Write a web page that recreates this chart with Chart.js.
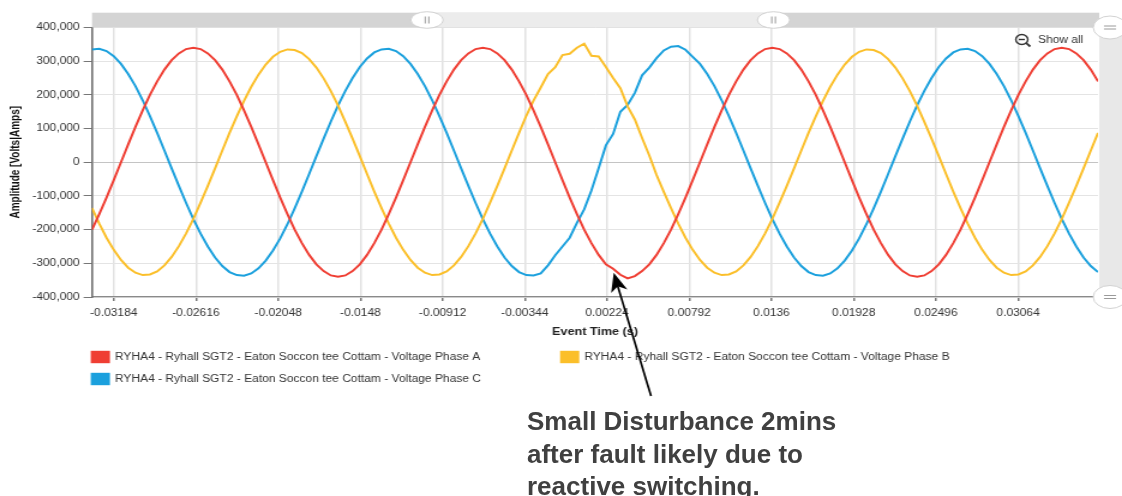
<!DOCTYPE html>
<html>
<head>
<meta charset="utf-8">
<title>RYHA4 voltage phases</title>
<script src="https://cdn.jsdelivr.net/npm/chart.js@4.4.1/dist/chart.umd.min.js"></script>
<style>
  html, body { margin: 0; padding: 0; background: #fff; overflow: hidden; }
  #page { position: relative; width: 1122px; height: 496px; overflow: hidden; }
  /* the source screenshot is stretched sideways, so the chart canvas is too */
  #stretch { position: absolute; left: 0; top: 0; width: 935px; height: 496px; transform: scaleX(1.2); transform-origin: 0 0; }
  #note { position: absolute; left: 527px; top: 405px; font: bold 26px "Liberation Sans", Arial, sans-serif; line-height: 32.5px; color: #404040; white-space: nowrap; }
</style>
</head>
<body>
<div id="page">
  <div id="stretch"><canvas id="wave" width="935" height="496"></canvas></div>
  <div id="note">Small Disturbance 2mins<br>after fault likely due to<br>reactive switching.</div>
</div>
<script>
// event time (s)
var times = [
  -0.03334, -0.03284, -0.03234, -0.03184, -0.03134, -0.03084, -0.03034, -0.02984, -0.02934, -0.02884,
  -0.02834, -0.02784, -0.02734, -0.02684, -0.02634, -0.02584, -0.02534, -0.02484, -0.02434, -0.02384,
  -0.02334, -0.02284, -0.02234, -0.02184, -0.02134, -0.02084, -0.02034, -0.01984, -0.01934, -0.01884,
  -0.01834, -0.01784, -0.01734, -0.01684, -0.01634, -0.01584, -0.01534, -0.01484, -0.01434, -0.01384,
  -0.01334, -0.01284, -0.01234, -0.01184, -0.01134, -0.01084, -0.01034, -0.00984, -0.00934, -0.00884,
  -0.00834, -0.00784, -0.00734, -0.00684, -0.00634, -0.00584, -0.00534, -0.00484, -0.00434, -0.00384,
  -0.00334, -0.00284, -0.00234, -0.00184, -0.00134, -0.00084, -0.00034, 0.00016, 0.00066, 0.00116,
  0.00166, 0.00216, 0.00266, 0.00316, 0.00366, 0.00416, 0.00466, 0.00516, 0.00566, 0.00616,
  0.00666, 0.00716, 0.00766, 0.00816, 0.00866, 0.00916, 0.00966, 0.01016, 0.01066, 0.01116,
  0.01166, 0.01216, 0.01266, 0.01316, 0.01366, 0.01416, 0.01466, 0.01516, 0.01566, 0.01616,
  0.01666, 0.01716, 0.01766, 0.01816, 0.01866, 0.01916, 0.01966, 0.02016, 0.02066, 0.02116,
  0.02166, 0.02216, 0.02266, 0.02316, 0.02366, 0.02416, 0.02466, 0.02516, 0.02566, 0.02616,
  0.02666, 0.02716, 0.02766, 0.02816, 0.02866, 0.02916, 0.02966, 0.03016, 0.03066, 0.03116,
  0.03166, 0.03216, 0.03266, 0.03316, 0.03366, 0.03416, 0.03466, 0.03516, 0.03566, 0.03616
];

// amplitude (V)
var phaseA = [
  -200000, -154000, -105000, -53000, 0, 53000, 105000, 154000, 200000, 240000,
  275000, 303000, 323000, 336000, 340000, 336000, 323000, 303000, 275000, 240000,
  200000, 154000, 105000, 53000, 0, -53000, -105000, -154000, -200000, -240000,
  -275000, -303000, -323000, -336000, -340000, -336000, -323000, -303000, -275000, -240000,
  -200000, -154000, -105000, -53000, 0, 53000, 105000, 154000, 200000, 240000,
  275000, 303000, 323000, 336000, 340000, 336000, 323000, 303000, 275000, 240000,
  200000, 154000, 105000, 53000, 0, -53000, -105000, -154000, -200000, -240000,
  -275000, -303000, -316000, -334000, -345000, -338000, -323000, -303000, -275000, -240000,
  -200000, -154000, -105000, -53000, 0, 53000, 105000, 154000, 200000, 240000,
  275000, 303000, 323000, 336000, 340000, 336000, 323000, 303000, 275000, 240000,
  200000, 154000, 105000, 53000, 0, -53000, -105000, -154000, -200000, -240000,
  -275000, -303000, -323000, -336000, -340000, -336000, -323000, -303000, -275000, -240000,
  -200000, -154000, -105000, -53000, 0, 53000, 105000, 154000, 200000, 240000,
  275000, 303000, 323000, 336000, 340000, 336000, 323000, 303000, 275000, 240000
];

var phaseB = [
  -136000, -182000, -224000, -260000, -290000, -313000, -328000, -335000, -333000, -324000,
  -306000, -281000, -249000, -211000, -168000, -120000, -70000, -18000, 35000, 87000,
  136000, 182000, 224000, 260000, 290000, 313000, 328000, 335000, 333000, 324000,
  306000, 281000, 249000, 211000, 168000, 120000, 70000, 18000, -35000, -87000,
  -136000, -182000, -224000, -260000, -290000, -313000, -328000, -335000, -333000, -324000,
  -306000, -281000, -249000, -211000, -168000, -120000, -70000, -18000, 35000, 87000,
  138000, 183000, 222000, 262000, 282000, 318000, 322000, 340000, 352000, 316000,
  314000, 283000, 250000, 220000, 166000, 127000, 72000, 20000, -38000, -88000,
  -136000, -182000, -224000, -260000, -290000, -313000, -328000, -335000, -333000, -324000,
  -306000, -281000, -249000, -211000, -168000, -120000, -70000, -18000, 35000, 87000,
  136000, 182000, 224000, 260000, 290000, 313000, 328000, 335000, 333000, 324000,
  306000, 281000, 249000, 211000, 168000, 120000, 70000, 18000, -35000, -87000,
  -136000, -182000, -224000, -260000, -290000, -313000, -328000, -335000, -333000, -324000,
  -306000, -281000, -249000, -211000, -168000, -120000, -70000, -18000, 35000, 87000
];

var phaseC = [
  335000, 337000, 330000, 315000, 292000, 262000, 226000, 184000, 137000, 87000,
  35000, -18000, -70000, -121000, -169000, -212000, -250000, -283000, -308000, -326000,
  -335000, -337000, -330000, -315000, -292000, -262000, -226000, -184000, -137000, -87000,
  -35000, 18000, 70000, 121000, 169000, 212000, 250000, 283000, 308000, 326000,
  335000, 337000, 330000, 315000, 292000, 262000, 226000, 184000, 137000, 87000,
  35000, -18000, -70000, -121000, -169000, -212000, -250000, -283000, -308000, -326000,
  -335000, -336000, -330000, -306000, -276000, -250000, -224000, -180000, -140000, -84000,
  -18000, 50000, 84000, 150000, 170000, 206000, 258000, 281000, 309000, 332000,
  343000, 345000, 334000, 313000, 292000, 262000, 226000, 184000, 137000, 87000,
  35000, -18000, -70000, -121000, -169000, -212000, -250000, -283000, -308000, -326000,
  -335000, -337000, -330000, -315000, -292000, -262000, -226000, -184000, -137000, -87000,
  -35000, 18000, 70000, 121000, 169000, 212000, 250000, 283000, 308000, 326000,
  335000, 337000, 330000, 315000, 292000, 262000, 226000, 184000, 137000, 87000,
  35000, -18000, -70000, -121000, -169000, -212000, -250000, -283000, -308000, -326000
];

var seriesNames = [
  'RYHA4 - Ryhall SGT2 - Eaton Soccon tee Cottam - Voltage Phase A',
  'RYHA4 - Ryhall SGT2 - Eaton Soccon tee Cottam - Voltage Phase B',
  'RYHA4 - Ryhall SGT2 - Eaton Soccon tee Cottam - Voltage Phase C'
];
var seriesColors = ['#ef3e33', '#fbbf2a', '#1ba0dd'];

var xTicks = [-0.03184, -0.02616, -0.02048, -0.0148, -0.00912, -0.00344, 0.00224, 0.00792, 0.0136, 0.01928, 0.02496, 0.03064];
var xTickLabels = ['-0.03184', '-0.02616', '-0.02048', '-0.0148', '-0.00912', '-0.00344', '0.00224', '0.00792', '0.0136', '0.01928', '0.02496', '0.03064'];

// where the annotation arrow points (time, volts)
var arrowTip = { x: 0.0027, y: -328000 };

var FONT = '"Liberation Sans", Arial, sans-serif';
Chart.defaults.font.family = FONT;

function handle(ctx, cx, cy, rx, ry, glyph) {
  ctx.beginPath();
  ctx.ellipse(cx, cy, rx, ry, 0, 0, Math.PI * 2);
  ctx.fillStyle = '#fff';
  ctx.fill();
  ctx.strokeStyle = '#d2d2d2';
  ctx.lineWidth = 1;
  ctx.stroke();
  ctx.strokeStyle = '#9a9a9a';
  ctx.beginPath();
  if (glyph === 'v') {
    ctx.moveTo(cx - 1.5, cy - 3.5); ctx.lineTo(cx - 1.5, cy + 3.5);
    ctx.moveTo(cx + 1.5, cy - 3.5); ctx.lineTo(cx + 1.5, cy + 3.5);
  } else {
    ctx.moveTo(cx - 5, cy - 1.5); ctx.lineTo(cx + 5, cy - 1.5);
    ctx.moveTo(cx - 5, cy + 1.5); ctx.lineTo(cx + 5, cy + 1.5);
  }
  ctx.stroke();
}

var extras = {
  id: 'extras',
  afterDraw: function(chart) {
    var ctx = chart.ctx;
    var a = chart.chartArea;
    var W = chart.width;
    ctx.save();

    // navigator strip on top
    var nTop = 12.7, nBot = 27.3;
    var h1 = a.left + (a.right - a.left) * 0.333;
    var h2 = a.left + (a.right - a.left) * 0.6775;
    ctx.fillStyle = '#d4d4d4';
    ctx.fillRect(a.left, nTop, a.right + 1 - a.left, nBot - nTop);
    ctx.fillStyle = '#ececec';
    ctx.fillRect(h1, nTop, h2 - h1, nBot - nTop);
    handle(ctx, h1, 20, 13.5, 8.3, 'v');
    handle(ctx, h2, 20, 13.5, 8.3, 'v');

    // vertical scroller on the right
    ctx.fillStyle = '#e8e8e8';
    ctx.fillRect(a.right + 1, a.top, W - a.right, a.bottom - a.top);
    handle(ctx, 925, a.top, 14, 11.5, 'h');
    handle(ctx, 925, a.bottom, 14, 11.5, 'h');

    // "Show all" zoom reset
    ctx.strokeStyle = '#333';
    ctx.lineWidth = 1.4;
    ctx.beginPath(); ctx.arc(851.5, 39.5, 5, 0, Math.PI * 2); ctx.stroke();
    ctx.beginPath(); ctx.moveTo(849, 39.5); ctx.lineTo(854, 39.5); ctx.stroke();
    ctx.lineWidth = 1.8;
    ctx.beginPath(); ctx.moveTo(855.2, 43.2); ctx.lineTo(858.5, 46.5); ctx.stroke();
    ctx.fillStyle = '#333';
    ctx.font = '10px ' + FONT;
    ctx.textBaseline = 'middle';
    ctx.textAlign = 'left';
    ctx.fillText('Show all', 865, 40.5);

    // legend, two columns
    var legendPos = [[75.6, 357], [466.7, 357], [75.6, 379]];
    chart.data.datasets.forEach(function(ds, i) {
      var p = legendPos[i];
      ctx.fillStyle = ds.borderColor;
      ctx.fillRect(p[0], p[1] - 6.2, 16, 12.4);
      ctx.fillStyle = '#333';
      ctx.fillText(ds.label, p[0] + 20.2, p[1]);
    });

    // annotation arrow
    var tipX = chart.scales.x.getPixelForValue(arrowTip.x);
    var tipY = chart.scales.y.getPixelForValue(arrowTip.y);
    var tailX = 542.5, tailY = 396;
    var ang = Math.atan2(tipY - tailY, tipX - tailX);
    var c = Math.cos(ang), s = Math.sin(ang);
    ctx.strokeStyle = '#000';
    ctx.fillStyle = '#000';
    ctx.lineWidth = 1.7;
    ctx.beginPath();
    ctx.moveTo(tailX, tailY);
    ctx.lineTo(tipX - 12 * c, tipY - 12 * s);
    ctx.stroke();
    ctx.beginPath();
    ctx.moveTo(tipX, tipY);
    ctx.lineTo(tipX - 19 * c + 7 * s, tipY - 19 * s - 7 * c);
    ctx.lineTo(tipX - 14 * c, tipY - 14 * s);
    ctx.lineTo(tipX - 19 * c - 7 * s, tipY - 19 * s + 7 * c);
    ctx.closePath();
    ctx.fill();

    ctx.restore();
  }
};

function points(values) {
  return times.map(function(t, i) { return { x: t, y: values[i] }; });
}

var datasets = [phaseA, phaseB, phaseC].map(function(vals, i) {
  return {
    label: seriesNames[i],
    data: points(vals),
    borderColor: seriesColors[i],
    backgroundColor: seriesColors[i],
    borderWidth: 2,
    pointRadius: 0,
    tension: 0,
    fill: false
  };
});

var waveChart = new Chart(document.getElementById('wave'), {
  type: 'line',
  data: { datasets: datasets },
  options: {
    responsive: false,
    animation: false,
    devicePixelRatio: 1,
    layout: { padding: { top: 27.5, right: 20, bottom: 154, left: 0 } },
    plugins: {
      legend: { display: false },
      tooltip: { enabled: false }
    },
    scales: {
      x: {
        type: 'linear',
        min: times[0],
        max: times[times.length - 1],
        afterFit: function(scale) { scale.height = 45; },
        afterBuildTicks: function(scale) {
          scale.ticks = xTicks.map(function(v) { return { value: v }; });
        },
        ticks: {
          autoSkip: false,
          maxRotation: 0,
          padding: 6,
          color: '#333',
          font: { size: 10 },
          callback: function(value, index) { return xTickLabels[index]; }
        },
        grid: { color: '#e2e2e2', lineWidth: 1.5, tickLength: 4, tickColor: '#777' },
        border: { color: '#8a8a8a', width: 1.3 },
        title: {
          display: true,
          text: 'Event Time (s)',
          color: '#222',
          font: { size: 10.5, weight: 'bold' },
          padding: { top: 0, bottom: 4 }
        }
      },
      y: {
        min: -400000,
        max: 400000,
        afterFit: function(scale) { scale.width = 76.67; },
        ticks: {
          stepSize: 100000,
          padding: 3.3,
          color: '#333',
          font: { size: 10 },
          callback: function(v) { return v.toLocaleString('en-US'); }
        },
        grid: {
          color: function(c) { return c.tick && c.tick.value === 0 ? '#c4c4c4' : '#e4e4e4'; },
          lineWidth: 1,
          tickLength: 7,
          tickColor: '#777'
        },
        border: { color: '#6e6e6e', width: 1.6 },
        title: {
          display: true,
          text: 'Amplitude [Volts|Amps]',
          color: '#111',
          font: { size: 10, weight: 'bold' },
          padding: { top: 7, bottom: 0 }
        }
      }
    }
  },
  plugins: [extras]
});
</script>
</body>
</html>
